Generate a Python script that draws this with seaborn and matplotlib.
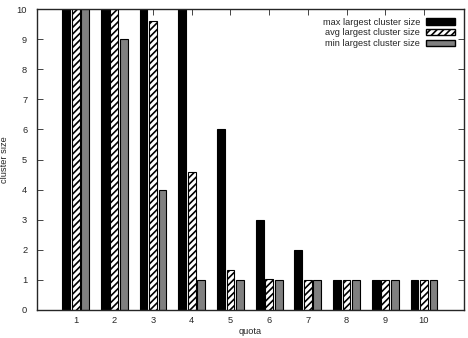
import pandas as pd
import matplotlib
matplotlib.use("Agg")
import matplotlib.pyplot as plt
import matplotlib.patches as mpatches
import seaborn as sns

# values
quota = ["1", "2", "3", "4", "5", "6", "7", "8", "9", "10"]
max_size = [10, 10, 10, 10, 6, 3, 2, 1, 1, 1]
avg_size = [10, 10, 9.6, 4.57, 1.33, 1.03, 1, 1, 1, 1]
min_size = [10, 9, 4, 1, 1, 1, 1, 1, 1, 1]
series = ["max largest cluster size", "avg largest cluster size", "min largest cluster size"]

df = pd.DataFrame({
    "quota": quota * 3,
    "size": max_size + avg_size + min_size,
    "series": [series[0]] * 10 + [series[1]] * 10 + [series[2]] * 10,
})

sns.set_style("ticks")
plt.rcParams["font.family"] = ["Liberation Sans", "DejaVu Sans"]
plt.rcParams["font.size"] = 6.7
plt.rcParams["hatch.linewidth"] = 1.2

fig, ax = plt.subplots(figsize=(4.68, 3.38), dpi=100)
fig.subplots_adjust(left=0.079, right=0.991, top=0.973, bottom=0.083)

colors = ["black", "white", "#808080"]
sns.barplot(data=df, x="quota", y="size", hue="series", hue_order=series,
            palette=colors, width=0.735, gap=0.18, edgecolor="black",
            linewidth=0.8, saturation=1, legend=False, ax=ax)

# hatch the avg series
for bar in ax.containers[1]:
    bar.set_hatch("/////")

ax.set_xlim(-1, 10.03)
ax.set_ylim(0, 10)
ax.set_yticks(range(0, 11))
ax.set_xlabel("quota", labelpad=2)
ax.set_ylabel("cluster size")
ax.yaxis.set_label_coords(-0.066, 0.5)
ax.tick_params(direction="in", length=4, width=0.6, top=True, right=True)
ax.tick_params(axis="x", pad=4)
ax.tick_params(axis="y", pad=7)
for s in ax.spines.values():
    s.set_linewidth(1.0)

handles = [
    mpatches.Patch(facecolor="black", edgecolor="black", label=series[0]),
    mpatches.Patch(facecolor="white", edgecolor="black", hatch="/////", label=series[1]),
    mpatches.Patch(facecolor="#808080", edgecolor="black", label=series[2]),
]
ax.legend(handles=handles, loc="upper right", frameon=False, markerfirst=False,
          handlelength=3.2, handleheight=0.7, handletextpad=0.6, labelspacing=0.2,
          borderaxespad=0.5, fontsize=6.7)

fig.savefig("out.png", dpi=100)
